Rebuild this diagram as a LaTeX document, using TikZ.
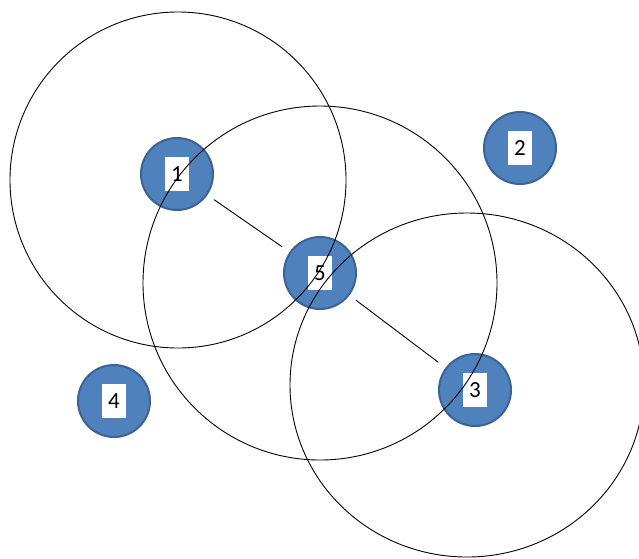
\documentclass[tikz,border=0pt]{standalone}
\usepackage{fontspec}
\setmainfont{Carlito}
\definecolor{nodefill}{HTML}{4F81BD}
\definecolor{nodeedge}{HTML}{3A6396}
\tikzset{
  station/.style={circle, fill=nodefill, draw=nodeedge, line width=2pt,
    minimum size=72pt, inner sep=0pt},
  tag/.style={fill=white, minimum width=24pt, minimum height=34pt,
    inner sep=0pt, font=\fontsize{23}{23}\selectfont},
  link/.style={line width=0.9pt, shorten <=8pt, shorten >=9pt},
  coverage/.style={line width=0.9pt}
}
\begin{document}
\begin{tikzpicture}[x=1pt, y=-1pt]
  \useasboundingbox (0,0) rectangle (639,558);
  \clip (0,0) rectangle (639,558);

  % stations
  \node[station] (n1) at (177,174) {};
  \node[station] (n2) at (520,148) {};
  \node[station] (n3) at (475,390) {};
  \node[station] (n4) at (114,401) {};
  \node[station] (n5) at (320,273) {};

  % station numbers
  \node[tag] (t1) at (n1) {1};
  \node[tag] (t2) at (n2) {2};
  \node[tag] (t3) at (n3) {3};
  \node[tag] (t4) at (n4) {4};
  \node[tag] (t5) at (n5) {5};

  % links
  \draw[link] (n1) -- (n5);
  \draw[link] (n5) -- (n3);

  % transmission ranges
  \draw[coverage] (178,180) circle (168);
  \draw[coverage] (320,283) circle (177);
  \draw[coverage] (467,385) ellipse [x radius=177, y radius=172];
\end{tikzpicture}
\end{document}
